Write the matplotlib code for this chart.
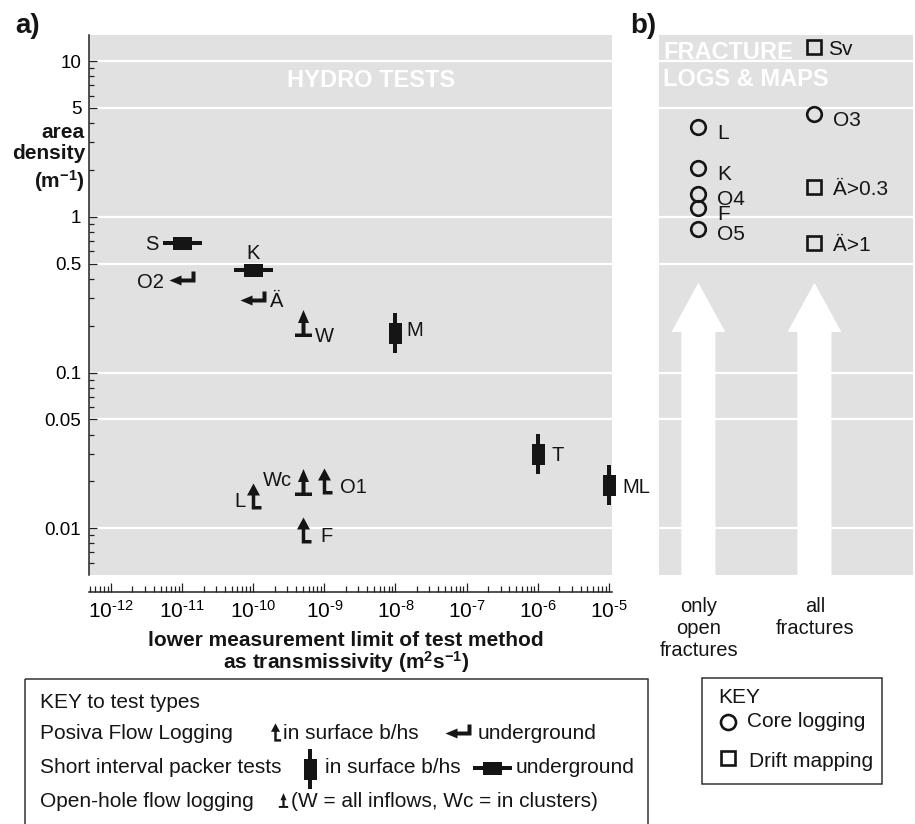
import numpy as np
import matplotlib
matplotlib.use('Agg')
import matplotlib.pyplot as plt
from matplotlib.path import Path
from matplotlib.patches import Polygon, Rectangle
from matplotlib.ticker import (FixedLocator, FixedFormatter, FuncFormatter, LogLocator,
                               NullFormatter, NullLocator)

plt.rcParams['font.family'] = ['Liberation Sans', 'DejaVu Sans']
plt.rcParams['mathtext.fontset'] = 'custom'
plt.rcParams['mathtext.rm'] = 'Liberation Sans'
plt.rcParams['mathtext.it'] = 'Liberation Sans:italic'
plt.rcParams['mathtext.bf'] = 'Liberation Sans:bold'

DPI = 100
W, H = 915, 824
INK = '#151515'
GREY = '#e1e1e1'

# --- a) hydro tests: lower limit (m2/s) vs area density (1/m) ---
packer_surf_names = ['M', 'T', 'ML']
packer_surf_T = [1e-8, 1e-6, 1e-5]
packer_surf_P = [0.18, 0.030, 0.019]

packer_ug_names = ['S', 'K']
packer_ug_T = [1e-11, 1e-10]
packer_ug_P = [0.68, 0.455]

pfl_surf_names = ['L', 'O1', 'F']
pfl_surf_T = [1e-10, 1e-9, 5e-10]
pfl_surf_P = [0.0161, 0.0200, 0.0097]

pfl_ug_names = ['O2', 'Ä']
pfl_ug_T = [1e-11, 1e-10]
pfl_ug_P = [0.39, 0.294]

openhole_names = ['W', 'Wc']
openhole_T = [5e-10, 5e-10]
openhole_P = [0.207, 0.0198]

# --- b) fracture logs & maps ---
open_core_names = ['L', 'K', 'O4', 'F', 'O5']
open_core_P = [3.75, 2.05, 1.41, 1.13, 0.84]
all_core_names = ['O3']
all_core_P = [4.55]
all_drift_names = ['Sv', 'Ä>0.3', 'Ä>1']
all_drift_P = [12.3, 1.56, 0.68]

y_major = [0.005, 0.01, 0.05, 0.1, 0.5, 1, 5, 10]
y_major_labels = ['0.005', '0.01', '0.05', '0.1', '0.5', '1', '5', '10']
x_decades = np.arange(-12, -4)


def outline(pts):
    pts = np.array(pts + [pts[0]], float)
    codes = [Path.MOVETO] + [Path.LINETO] * (len(pts) - 2) + [Path.CLOSEPOLY]
    return Path(pts, codes)


# symbols, drawn in pixel units around (0, 0)
GLYPHS = {
    'packer_v': outline([(-2.25, -20), (2.25, -20), (2.25, -10.5), (6.5, -10.5), (6.5, 10.5),
                         (2.25, 10.5), (2.25, 20), (-2.25, 20), (-2.25, 10.5), (-6.5, 10.5),
                         (-6.5, -10.5), (-2.25, -10.5)]),
    'packer_h': outline([(-19.5, -2.25), (-9.5, -2.25), (-9.5, -6.5), (9.5, -6.5), (9.5, -2.25),
                         (19.5, -2.25), (19.5, 2.25), (9.5, 2.25), (9.5, 6.5), (-9.5, 6.5),
                         (-9.5, 2.25), (-19.5, 2.25)]),
    'pfl_surf': outline([(-1.75, -13), (8, -13), (8, -9.5), (1.75, -9.5), (1.75, 1), (6.5, 1),
                         (0, 13), (-6.5, 1), (-1.75, 1)]),
    'pfl_ug': outline([(-13, 0), (-1, -5), (-1, -2), (13, -2), (13, 9), (9, 9), (9, 2),
                       (-1, 2), (-1, 5)]),
    'openhole': outline([(-8.5, -13.5), (8.5, -13.5), (8.5, -10), (2, -10), (2, 0.5), (5.5, 0.5),
                         (0, 13.5), (-5.5, 0.5), (-2, 0.5), (-2, -10), (-8.5, -10)]),
}


def glyph(ax, kind, x, y, scale=1.0):
    p = GLYPHS[kind]
    r = np.abs(p.vertices).max()
    ax.plot(x, y, ls='none', marker=p, ms=2 * r * 72 / DPI * scale,
            mfc=INK, mec='none', mew=0, clip_on=False, zorder=4)


def labels(ax, names, xs, ys, offs, size=14.5):
    for name, x, y, (dx, dy, ha) in zip(names, xs, ys, offs):
        ax.annotate(name, (x, y), xytext=(dx * 0.72, -dy * 0.72), textcoords='offset points',
                    ha=ha, va='center_baseline', fontsize=size, color=INK, zorder=5)


def decade_label(v, pos):
    e = int(round(np.log10(v)))
    sign = r'\text{-}' if e < 0 else ''
    return r'10$^{%s%d}$' % (sign, abs(e))


def frac_box(x0, y0, x1, y1):
    return [x0 / W, 1 - y1 / H, (x1 - x0) / W, (y1 - y0) / H]


fig = plt.figure(figsize=(W / DPI, H / DPI), dpi=DPI)
ax = fig.add_axes(frac_box(89, 35, 612, 575))
axb = fig.add_axes(frac_box(659, 35, 913, 575))

ylim = (10 ** -2.30, 10 ** 1.167)

# panel a
ax.set_facecolor(GREY)
ax.set_xscale('log')
ax.set_yscale('log')
ax.set_xlim(10 ** -12.31, 10 ** -4.955)
ax.set_ylim(*ylim)
ax.xaxis.set_major_locator(FixedLocator(10.0 ** x_decades))
ax.xaxis.set_major_formatter(FuncFormatter(decade_label))
ax.xaxis.set_minor_locator(LogLocator(base=10, subs=np.arange(2, 10), numticks=60))
ax.xaxis.set_minor_formatter(NullFormatter())
ax.yaxis.set_major_locator(FixedLocator(y_major))
ax.yaxis.set_major_formatter(FixedFormatter(y_major_labels))
ax.yaxis.set_minor_locator(LogLocator(base=10, subs=[2, 3, 4, 6, 7, 8, 9], numticks=60))
ax.yaxis.set_minor_formatter(NullFormatter())
ax.spines['top'].set_visible(False)
ax.spines['right'].set_visible(False)
ax.spines['bottom'].set_position(('outward', 12.2))
for s in ('left', 'bottom'):
    ax.spines[s].set_linewidth(1.1)
    ax.spines[s].set_color('#222222')
ax.tick_params(which='both', direction='in', color='#222222', width=0.9,
               top=False, right=False, labelsize=13.5)
ax.tick_params(axis='x', which='major', length=6.5, pad=6, labelsize=15)
ax.tick_params(axis='x', which='minor', length=4)
ax.tick_params(axis='y', which='major', length=6, pad=5.5)
ax.tick_params(axis='y', which='minor', length=3.5)
ax.yaxis.grid(True, which='major', color='white', lw=1.6)
ax.set_axisbelow(True)

glyph(ax, 'packer_v', packer_surf_T, packer_surf_P)
glyph(ax, 'packer_h', packer_ug_T, packer_ug_P)
glyph(ax, 'pfl_surf', pfl_surf_T, pfl_surf_P)
glyph(ax, 'pfl_ug', pfl_ug_T, pfl_ug_P)
glyph(ax, 'openhole', openhole_T, openhole_P)

labels(ax, packer_surf_names, packer_surf_T, packer_surf_P,
       [(11, -4, 'left'), (14, 0, 'left'), (14, 1, 'left')])
labels(ax, packer_ug_names, packer_ug_T, packer_ug_P,
       [(-24, 0, 'right'), (0, -19, 'center')])
labels(ax, pfl_surf_names, pfl_surf_T, pfl_surf_P,
       [(-8, 3, 'right'), (16, 4, 'left'), (17, 4, 'left')])
labels(ax, pfl_ug_names, pfl_ug_T, pfl_ug_P,
       [(-18, 0, 'right'), (17, 0, 'left')])
labels(ax, openhole_names, openhole_T, openhole_P,
       [(12, 11, 'left'), (-11, -4, 'right')])

# panel b
col_x = [0.155, 0.612]
axb.set_facecolor(GREY)
axb.set_yscale('log')
axb.set_xlim(0, 1)
axb.set_ylim(*ylim)
axb.yaxis.set_major_locator(FixedLocator(y_major))
axb.yaxis.set_minor_locator(NullLocator())
axb.yaxis.grid(True, which='major', color='white', lw=1.6)
axb.set_axisbelow(True)
axb.tick_params(left=False, bottom=False, labelleft=False, labelbottom=False, which='both')
for s in axb.spines.values():
    s.set_visible(False)

# white "increasing density" arrows behind the markers
for cx in col_x:
    shaft, head = 0.067, 0.106
    axb.add_patch(Polygon([(cx - shaft, 0), (cx + shaft, 0), (cx + shaft, 0.45), (cx + head, 0.45),
                           (cx, 0.541), (cx - head, 0.45), (cx - shaft, 0.45)],
                          closed=True, transform=axb.transAxes, fc='white', ec='none', zorder=1.5))

axb.plot([col_x[0]] * len(open_core_P), open_core_P, 'o', ms=10.5, mfc='none', mec=INK, mew=1.9, zorder=4)
axb.plot([col_x[1]] * len(all_core_P), all_core_P, 'o', ms=10.5, mfc='none', mec=INK, mew=1.9, zorder=4)
axb.plot([col_x[1]] * len(all_drift_P), all_drift_P, 's', ms=10.3, mfc='none', mec=INK, mew=1.9, zorder=4)

labels(axb, open_core_names, [col_x[0]] * 5, open_core_P, [(19, 4, 'left')] * 5, size=15)
labels(axb, all_core_names, [col_x[1]], all_core_P, [(19, 4, 'left')], size=15)
labels(axb, all_drift_names, [col_x[1]] * 3, all_drift_P,
       [(14, 0, 'left'), (19, 1, 'left'), (19, 1, 'left')], size=15)

# figure-level text, keys and boxes in pixel coordinates
over = fig.add_axes([0, 0, 1, 1])
over.set_xlim(0, W)
over.set_ylim(H, 0)
over.axis('off')


def txt(x, y, s, size=15, ha='left', **kw):
    over.text(x, y, s, fontsize=size, ha=ha, va='baseline', color=kw.pop('color', INK), **kw)


txt(15, 33, 'a)', size=20, fontweight='bold')
txt(630, 33, 'b)', size=20, fontweight='bold')
txt(287, 87, 'HYDRO TESTS', size=17, fontweight='bold', color='white')
txt(663, 59, 'FRACTURE', size=17, fontweight='bold', color='white')
txt(663, 86, 'LOGS & MAPS', size=17, fontweight='bold', color='white')

txt(85, 138, 'area', ha='right', fontweight='bold')
txt(85, 159, 'density', ha='right', fontweight='bold')
txt(85, 188, r'(m$^{\mathbf{-1}}$)', ha='right', fontweight='bold')

txt(346, 646, 'lower measurement limit of test method', ha='center', fontweight='bold')
txt(346, 669, r'as transmissivity (m$^{\mathbf{2}}$s$^{\mathbf{-1}}$)', ha='center', fontweight='bold')

for i, s in enumerate(['only', 'open', 'fractures']):
    txt(699, 612 + 22 * i, s, size=14.5, ha='center')
for i, s in enumerate(['all', 'fractures']):
    txt(815, 612 + 22 * i, s, size=14.5, ha='center')

# key to test types
over.add_patch(Rectangle((25, 679), 623, 170, fc='none', ec='#333333', lw=1.1, clip_on=False))
txt(40, 708, 'KEY to test types')
txt(40, 739, 'Posiva Flow Logging')
glyph(over, 'pfl_surf', [275], [732], scale=0.7)
txt(283, 739, 'in surface b/hs')
glyph(over, 'pfl_ug', [458], [733])
txt(478, 739, 'underground')
txt(40, 773, 'Short interval packer tests')
glyph(over, 'packer_v', [310], [769])
txt(325, 773, 'in surface b/hs')
glyph(over, 'packer_h', [492], [768])
txt(516, 773, 'underground')
txt(40, 807, 'Open-hole flow logging')
glyph(over, 'openhole', [283], [799.5], scale=0.55)
txt(291, 807, '(W = all inflows, Wc = in clusters)')

# key to fracture data
over.add_patch(Rectangle((702, 678), 180, 106, fc='none', ec='#333333', lw=1.1))
txt(718, 703, 'KEY')
over.plot([728], [722], 'o', ms=10.8, mfc='none', mec=INK, mew=1.9)
txt(747, 727, 'Core logging')
over.plot([728], [758], 's', ms=10.3, mfc='none', mec=INK, mew=1.9)
txt(749, 767, 'Drift mapping')

fig.savefig('out.png', dpi=DPI)
